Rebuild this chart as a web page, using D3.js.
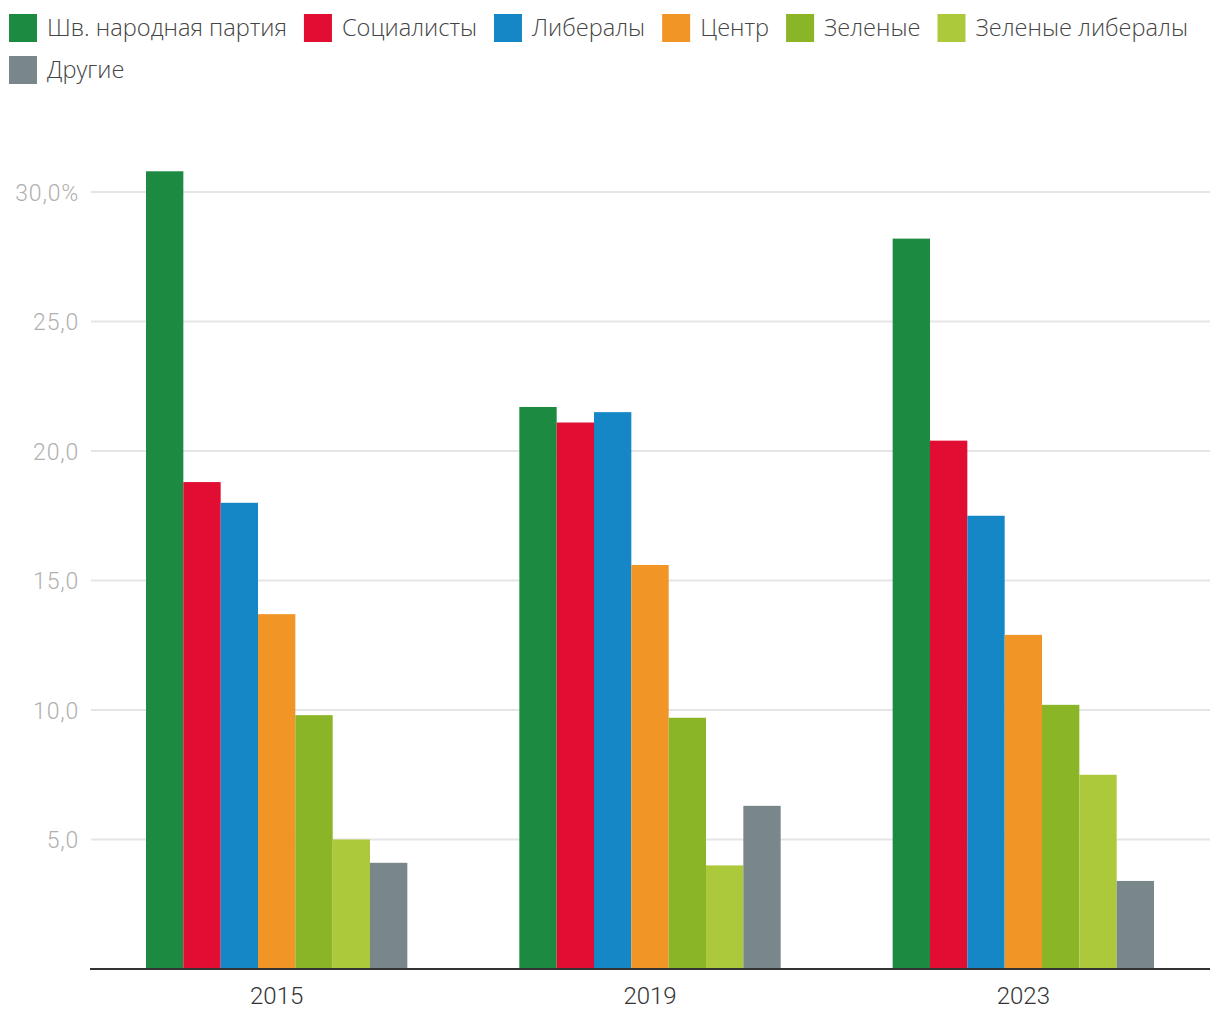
<!DOCTYPE html>
<html><head><meta charset="utf-8">
<script src="https://cdn.jsdelivr.net/npm/d3@7"></script>
<style>body{margin:0;background:#fff}</style>
</head><body>
<svg id="c" width="1220" height="1020"></svg>
<script>
const years = ["2015", "2019", "2023"];
const parties = ["Шв. народная партия", "Социалисты", "Либералы", "Центр", "Зеленые", "Зеленые либералы", "Другие"];
const colors = ["#1d8a41", "#e10d33", "#1586c6", "#f29527", "#89b526", "#abc93a", "#7a878a"];
const svp = [30.8, 21.7, 28.2];
const sp = [18.8, 21.1, 20.4];
const fdp = [18.0, 21.5, 17.5];
const center = [13.7, 15.6, 12.9];
const greens = [9.8, 9.7, 10.2];
const glp = [5.0, 4.0, 7.5];
const others = [4.1, 6.3, 3.4];
const yTicks = [5, 10, 15, 20, 25, 30];
const series = [svp, sp, fdp, center, greens, glp, others];

const svg = d3.select("#c");
const x0 = d3.scaleBand().domain(years).range([90, 1210]).paddingInner(0.3).paddingOuter(0.15);
const x1 = d3.scaleBand().domain(d3.range(parties.length)).range([0, x0.bandwidth()]);
const y = d3.scaleLinear().domain([0, 30]).range([969, 192]);

// gridlines
svg.append("g").selectAll("line").data(yTicks).join("line")
  .attr("x1", 91).attr("x2", 1210).attr("y1", d => y(d)).attr("y2", d => y(d))
  .attr("stroke", "#e5e5e5").attr("stroke-width", 2);

// y labels
const yAxis = d3.axisLeft(y).tickValues(yTicks).tickSize(0).tickPadding(0)
  .tickFormat(d => d3.format(".1f")(d).replace(".", ",") + (d === 30 ? "%" : ""));
const ya = svg.append("g").attr("transform", "translate(79,0)").call(yAxis);
ya.select(".domain").remove();
ya.selectAll("text").attr("fill", "#b0b0b0").style("font-family", "Roboto").style("font-weight", 300)
  .style("font-size", "23px").style("letter-spacing", "0.8px").attr("dy", "0.35em");

// bars
const g = svg.append("g");
years.forEach((yr, i) => {
  g.append("g").attr("transform", `translate(${x0(yr)},0)`)
    .selectAll("rect").data(series.map((s, k) => ({k, v: s[i]}))).join("rect")
    .attr("x", d => x1(d.k)).attr("width", x1.bandwidth())
    .attr("y", d => y(d.v)).attr("height", d => y(0) - y(d.v))
    .attr("fill", d => colors[d.k]);
});

// x axis
const xAxis = d3.axisBottom(x0).tickSize(0).tickPadding(18);
const xa = svg.append("g").attr("transform", "translate(0,969)").call(xAxis);
xa.select(".domain").attr("stroke", "#333").attr("stroke-width", 2).attr("d", "M90,0H1210");
xa.selectAll("text").attr("fill", "#333").style("font-family", "Roboto").style("font-weight", 300).style("font-size", "24px");

// legend
const leg = svg.append("g");
let lx = 9, ly = 14;
parties.forEach((p, k) => {
  const item = leg.append("g");
  const t = item.append("text").text(p).attr("x", 38).attr("y", 14).attr("dy", "0.35em")
    .attr("fill", "#444").style("font-family", "Open Sans").style("font-weight", 300).style("font-size", "23.6px");
  const w = 38 + t.node().getComputedTextLength();
  if (lx + w > 1215) { lx = 9; ly += 42; }
  item.attr("transform", `translate(${lx},${ly})`);
  item.insert("rect", "text").attr("width", 28).attr("height", 28).attr("fill", colors[k]);
  lx += w + 17;
});
</script>
</body></html>
